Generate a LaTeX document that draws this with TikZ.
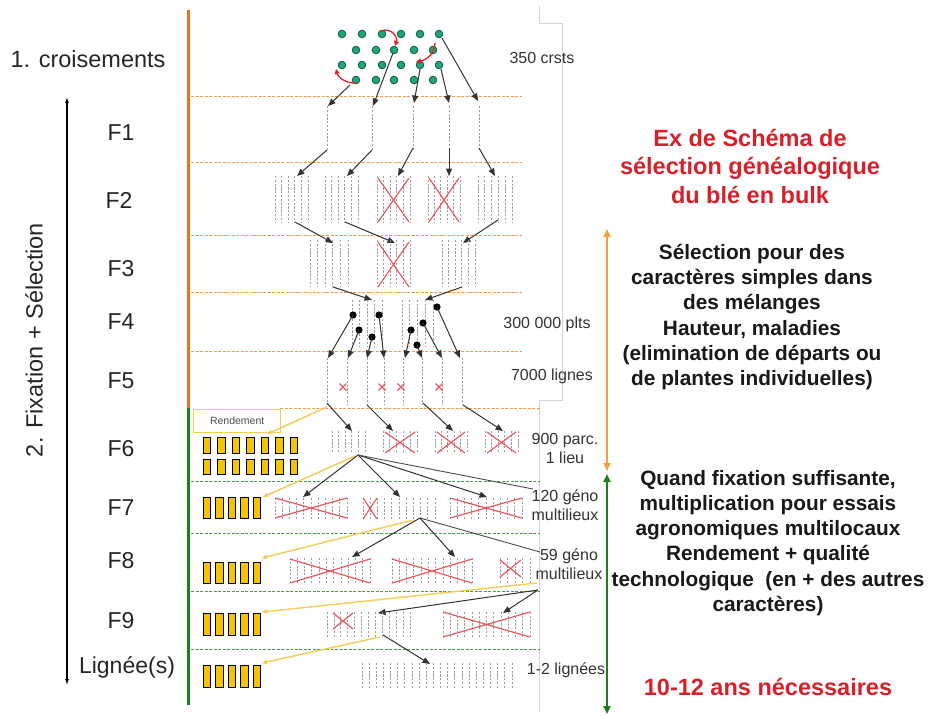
\documentclass[tikz,border=0pt]{standalone}
\usepackage{fontspec}
\setmainfont{Liberation Sans}
\usetikzlibrary{arrows.meta}
\definecolor{orangeV}{HTML}{F07020}
\definecolor{orangeD}{HTML}{F39A4E}
\definecolor{orangeA}{HTML}{F0A040}
\definecolor{greenV}{HTML}{1E7D1E}
\definecolor{greenD}{HTML}{4A9E4A}
\definecolor{greenDot}{HTML}{1FA67A}
\definecolor{greenDark}{HTML}{0E5A3E}
\definecolor{redT}{HTML}{D9202A}
\definecolor{redX}{HTML}{E85A62}
\definecolor{redC}{HTML}{E02020}
\definecolor{goldF}{HTML}{F5C400}
\definecolor{yellowL}{HTML}{F2CC5A}
\definecolor{frameG}{HTML}{D4D4D4}
\definecolor{txtG}{HTML}{333333}
\newcommand\gblock[5]{\foreach \gi in {0,...,#5}{\draw[gridl] ({#1+\gi*(#2-#1)/#5},#3) -- ({#1+\gi*(#2-#1)/#5},#4);}}
\newcommand\rx[4]{\draw[redx] (#1,#2) -- (#3,#4) (#1,#4) -- (#3,#2);}
\newcommand\yr[3]{\draw[yrect] (#1,#2) rectangle ++(7.5,#3);}
\begin{document}
\begin{tikzpicture}[x=1pt,y=-1pt,
  arr/.style={draw=black!80, line width=1pt, -{Triangle[length=7.5pt,width=6pt]}},
  plainl/.style={draw=black!70, line width=0.9pt},
  yarr/.style={draw=yellowL, line width=1.4pt, -{Triangle[length=5pt,width=4.5pt]}},
  gridl/.style={draw=black!38, line width=0.8pt, dash pattern=on 2.2pt off 1.6pt},
  redx/.style={draw=redX, line width=1.2pt},
  odash/.style={draw=orangeD, line width=1pt, dash pattern=on 3pt off 1.5pt},
  gdash/.style={draw=greenD, line width=1pt, dash pattern=on 3pt off 1.5pt},
  yrect/.style={fill=goldF, draw=black, line width=0.9pt},
  dotg/.style={fill=greenDot, draw=greenDark, line width=0.8pt},
  redc/.style={draw=redC, line width=1.3pt, -{Triangle[length=5pt,width=5pt]}},
  lft/.style={font=\fontsize{23}{27}\selectfont, text=black!85, inner sep=0pt},
  sml/.style={font=\fontsize{16}{19}\selectfont, text=txtG, align=center, inner sep=0pt},
  blk/.style={font=\fontsize{20.8}{25.2}\selectfont\bfseries, text=black!90, align=center, inner sep=0pt},
  ttl/.style={font=\fontsize{23.5}{28.5}\selectfont\bfseries, text=redT, align=center, inner sep=0pt}
]
\useasboundingbox (0,0) rectangle (928,715);
\fill[white] (0,0) rectangle (928,715);

% frame of pasted picture
\draw[frameG, line width=0.7pt] (539,6) -- (539,23) -- (562,23) -- (562,400) -- (539,400) -- (539,712);

% vertical colour bars
\draw[orangeV, line width=3pt] (188,10) -- (188,408);
\draw[greenV, line width=3pt] (188,408) -- (188,705);

% generation separators
\foreach \yy in {96,162,235,292,351} {\draw[odash] (191,\yy) -- (522,\yy);}
\draw[odash] (280,408) -- (540,408);
\foreach \yy in {481,533,591,649} {\draw[gdash] (191,\yy) -- (540,\yy);}

% crosses: parents
\foreach \xx in {342,362,382,401,420,439}{\filldraw[dotg] (\xx,34) circle (3.8pt); \filldraw[dotg] (\xx,65) circle (3.8pt);}
\foreach \xx in {356,376,394,414,433}{\filldraw[dotg] (\xx,50) circle (3.8pt); \filldraw[dotg] (\xx,80) circle (3.8pt);}
\draw[redc] (381,31) .. controls (391,27) and (398,37) .. (395,46);
\draw[redc] (435,43) .. controls (435,54) and (426,60) .. (416,62);
\draw[redc] (357,83) .. controls (346,84) and (338,77) .. (336,69);

% crosses -> F1
\draw[arr] (350,85) -- (328,106);
\draw[arr] (393,53) -- (373,106);
\draw[arr] (420,69) -- (414,103);
\draw[arr] (441,69) -- (449,103);
\draw[arr] (442,38) -- (478,101);

% F1
\foreach \xx in {327,372,413,449,479} {\draw[gridl] (\xx,106) -- (\xx,150);}
% F1 -> F2
\draw[arr] (327,150) -- (297,176);
\draw[arr] (372,150) -- (347,176);
\draw[arr] (413,148) -- (398,176);
\draw[arr] (449,148) -- (449,176);
\draw[arr] (479,148) -- (495,176);

% F2
\gblock{275}{308}{176}{222}{5}
\gblock{325}{358}{176}{222}{5}
\gblock{377}{410}{176}{222}{5}
\gblock{428}{460}{176}{222}{5}
\gblock{478}{512}{176}{222}{5}
\rx{378}{178}{409}{222}
\rx{429}{178}{459}{222}
% F2 -> F3
\draw[arr] (295,222) -- (333,243);
\draw[arr] (345,222) -- (395,243);
\draw[arr] (498,220) -- (463,243);

% F3
\gblock{310}{348}{240}{287}{5}
\gblock{377}{410}{240}{287}{5}
\gblock{442}{475}{240}{287}{5}
\rx{378}{242}{409}{287}
% F3 -> F4
\draw[arr] (333,287) -- (372,300);
\draw[arr] (462,287) -- (425,300);

% F4
\gblock{352}{382}{300}{347}{4}
\gblock{402}{433}{300}{347}{4}
\foreach \p in {(353,315),(379,315),(359,330),(372,337),(437,307),(423,323),(411,330),(417,345)} {\fill[black] \p circle (3.6pt);}
\draw[arr] (353,315) -- (328,358);
\draw[arr] (359,330) -- (348,358);
\draw[arr] (372,337) -- (367,358);
\draw[arr] (379,315) -- (384,358);
\draw[arr] (411,330) -- (405,358);
\draw[arr] (417,345) -- (422,358);
\draw[arr] (423,323) -- (442,358);
\draw[arr] (437,307) -- (460,358);

% F5
\foreach \xx in {327,347,367,384,403,422,442,462} {\draw[gridl] (\xx,358) -- (\xx,405);}
\foreach \xx in {343,382,401,439} {\draw[redx] (\xx-3.5,383.5) -- (\xx+3.5,390.5) (\xx-3.5,390.5) -- (\xx+3.5,383.5);}
% F5 -> F6
\draw[arr] (327,403) -- (352,431);
\draw[arr] (367,405) -- (393,431);
\draw[arr] (423,403) -- (453,431);
\draw[arr] (463,405) -- (503,431);

% Rendement
\node[draw=yellowL, line width=1.3pt, anchor=north west, minimum width=87pt, minimum height=23pt, inner sep=0pt, font=\fontsize{10.5}{12}\selectfont, text=black!70] (rend) at (193,409) {Rendement};
\draw[yarr] (327,407) -- (267,434);

% F6
\foreach \xx in {203,217.5,232,246.5,261,275.5,290} {\yr{\xx}{437}{16} \yr{\xx}{459}{15}}
\gblock{332}{365}{431}{453}{5}
\gblock{383}{417}{431}{453}{5}
\gblock{435}{467}{431}{453}{5}
\gblock{485}{518}{431}{453}{5}
\rx{385}{432}{415}{453}
\rx{437}{432}{465}{453}
\rx{487}{432}{516}{453}
% F6 -> F7
\draw[arr] (358,455) -- (303,497);
\draw[arr] (358,455) -- (400,497);
\draw[arr] (358,455) -- (487,497);
\draw[plainl] (358,455) -- (533,489);
\draw[yarr] (355,456) -- (263,497);

% F7
\foreach \xx in {203,215.5,228,240.5,253} {\yr{\xx}{497}{21}}
\gblock{275}{347}{498}{520}{10}
\gblock{363}{435}{498}{520}{10}
\gblock{450}{522}{498}{520}{10}
\rx{275}{498}{347}{518}
\rx{363}{498}{377}{519}
\rx{450}{498}{522}{518}
% F7 -> F8
\draw[arr] (420,518) -- (352,557);
\draw[arr] (420,518) -- (455,557);
\draw[plainl] (420,518) -- (540,552);
\draw[yarr] (413,520) -- (262,558);

% F8
\foreach \xx in {203,215.5,228,240.5,253} {\yr{\xx}{562}{21}}
\gblock{290}{370}{558}{583}{11}
\gblock{392}{472}{558}{583}{11}
\gblock{500}{530}{558}{583}{4}
\rx{290}{559}{370}{583}
\rx{392}{559}{472}{583}
\rx{500}{560}{521}{577}
% F8 -> F9
\draw[yarr] (537,583) -- (262,612);
\draw[arr] (538,590) -- (378,613);
\draw[arr] (538,590) -- (503,613);

% F9
\foreach \xx in {203,215.5,228,240.5,253} {\yr{\xx}{613}{22}}
\gblock{327}{410}{612}{637}{12}
\gblock{443}{530}{612}{637}{12}
\rx{333}{613}{353}{629}
\rx{443}{612}{530}{637}
% F9 -> lignees
\draw[arr] (383,635) -- (430,664);
\draw[yarr] (380,637) -- (262,663);

% lignees
\foreach \xx in {203,215.5,228,240.5,253} {\yr{\xx}{665}{22}}
\gblock{362}{512}{663}{688}{21}

% left labels
\node[lft, anchor=base, font=\fontsize{23.5}{27}\selectfont] (cr) at (88,67) {1. croisements};
\node[lft, anchor=base] (f1) at (121,140) {F1};
\node[lft, anchor=base] (f2) at (119,208) {F2};
\node[lft, anchor=base] (f3) at (121,276) {F3};
\node[lft, anchor=base] (f4) at (121,329) {F4};
\node[lft, anchor=base] (f5) at (121,388) {F5};
\node[lft, anchor=base] (f6) at (121,456) {F6};
\node[lft, anchor=base] (f7) at (121,515) {F7};
\node[lft, anchor=base] (f8) at (121,568) {F8};
\node[lft, anchor=base] (f9) at (121,628) {F9};
\node[lft, anchor=base] (lg) at (127,673) {Lignée(s)};
\node[lft, rotate=90, font=\fontsize{23.5}{27}\selectfont] (fs) at (34,340) {2. Fixation + Sélection};
\draw[black, line width=1.1pt, {Latex[length=6pt,width=4pt]}-{Latex[length=6pt,width=4pt]}] (67,97) -- (67,685);

% numbers
\node[sml] (n350) at (542,58) {350 crsts};
\node[sml] (n300) at (547,324) {300 000 plts};
\node[sml] (n7000) at (552,376) {7000 lignes};
\node[sml] (n900) at (565,448) {900 parc.\\1 lieu};
\node[sml] (n120) at (565,505) {120 géno\\multilieux};
\node[sml] (n59) at (569,564) {59 géno\\multilieux};
\node[sml] (n12) at (566,670) {1-2 lignées};

% right side
\draw[orangeA, line width=2.5pt, {Triangle[length=8pt,width=7pt]}-{Triangle[length=8pt,width=7pt]}] (607,229) -- (607,471);
\draw[greenV, line width=2.5pt, {Triangle[length=8pt,width=7pt]}-{Triangle[length=8pt,width=7pt]}] (607,474) -- (607,714);
\node[ttl, anchor=north] (title) at (750,129) {Ex de Schéma de\\sélection généalogique\\du blé en bulk};
\node[blk, anchor=north] (t1) at (752,244) {Sélection pour des\\caractères simples dans\\des mélanges\\Hauteur, maladies\\(elimination de départs ou\\de plantes individuelles)};
\node[blk, anchor=north] (t2) at (768,470) {Quand fixation suffisante,\\multiplication pour essais\\agronomiques multilocaux\\Rendement + qualité\\technologique\ \ (en + des autres\\caractères)};
\node[ttl, anchor=base] (ans) at (768,695) {10-12 ans nécessaires};
\end{tikzpicture}
\end{document}
